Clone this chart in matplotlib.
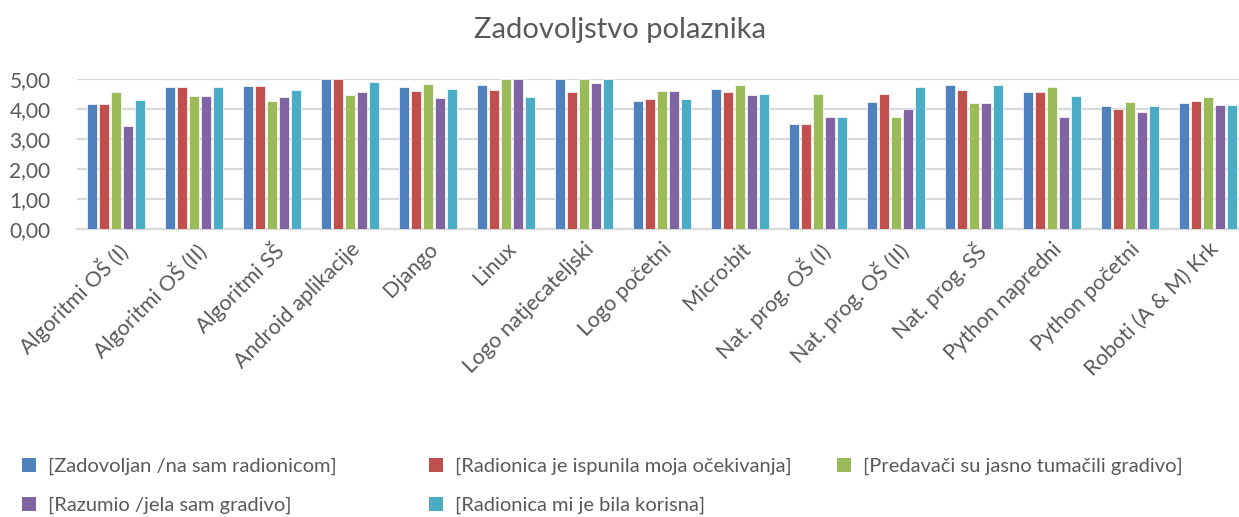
import matplotlib
matplotlib.use("Agg")
import matplotlib.pyplot as plt
import numpy as np
from matplotlib.patches import Patch

categories = [
    "Algoritmi OŠ (I)", "Algoritmi OŠ (II)", "Algoritmi SŠ", "Android aplikacije",
    "Django", "Linux", "Logo natjecateljski", "Logo početni", "Micro:bit",
    "Nat. prog. OŠ (I)", "Nat. prog. OŠ (II)", "Nat. prog. SŠ", "Python napredni",
    "Python početni", "Roboti (A & M) Krk",
]

series_names = [
    "[Zadovoljan /na sam radionicom]",
    "[Radionica je ispunila moja očekivanja]",
    "[Predavači su jasno tumačili gradivo]",
    "[Razumio /jela sam gradivo]",
    "[Radionica mi je bila korisna]",
]

zadovoljan = [4.17, 4.72, 4.77, 5.00, 4.72, 4.81, 5.00, 4.26, 4.66, 3.50, 4.25, 4.81, 4.58, 4.11, 4.20]
ispunila = [4.17, 4.72, 4.77, 5.00, 4.60, 4.62, 4.58, 4.34, 4.57, 3.50, 4.50, 4.62, 4.58, 4.01, 4.28]
predavaci = [4.58, 4.43, 4.27, 4.46, 4.83, 5.00, 5.00, 4.60, 4.81, 4.50, 3.75, 4.20, 4.72, 4.22, 4.40]
razumio = [3.42, 4.43, 4.39, 4.57, 4.37, 5.00, 4.87, 4.60, 4.46, 3.75, 4.00, 4.20, 3.72, 3.89, 4.13]
korisna = [4.29, 4.72, 4.63, 4.90, 4.66, 4.40, 5.00, 4.34, 4.49, 3.75, 4.75, 4.81, 4.43, 4.11, 4.13]

yticks = [0, 1, 2, 3, 4, 5]
ytick_labels = ["0,00", "1,00", "2,00", "3,00", "4,00", "5,00"]

colors = ["#4F81BD", "#C0504D", "#9BBB59", "#8064A2", "#4BACC6"]
TEXT = "#595959"
GRID = "#D9D9D9"

plt.rcParams["font.family"] = ["Lato", "DejaVu Sans"]

fig = plt.figure(figsize=(12.39, 5.17), dpi=100)
W, H = 1239, 517
ax = fig.add_axes([77 / W, 1 - 229 / H, 1170 / W, 150 / H])

x = np.arange(len(categories))
pitch = 0.154
bar_w = 0.128
all_series = [zadovoljan, ispunila, predavaci, razumio, korisna]
for i, (vals, col) in enumerate(zip(all_series, colors)):
    ax.bar(x + (i - 2) * pitch, vals, width=bar_w, color=col,
           edgecolor="white", linewidth=0.5, zorder=3)

ax.set_xlim(-0.5, len(categories) - 0.5)
ax.set_ylim(0, 5)
ax.set_yticks(yticks)
ax.set_yticklabels(ytick_labels, fontsize=15, color=TEXT)
ax.yaxis.grid(True, color=GRID, linewidth=1.6, zorder=0)
ax.tick_params(axis="y", length=0, pad=19)
ax.tick_params(axis="x", length=0, pad=7)
for s in ["top", "right", "left"]:
    ax.spines[s].set_visible(False)
ax.spines["bottom"].set_color(GRID)
ax.spines["bottom"].set_linewidth(1.6)

ax.set_xticks(x)
ax.set_xticklabels(categories, rotation=45, ha="right", va="top",
                   rotation_mode="anchor", fontsize=15.5, color=TEXT)

fig.text(0.5, 1 - 30 / H, "Zadovoljstvo polaznika", ha="center", va="center",
         fontsize=21, color=TEXT)

# legend: three columns laid out like Excel
col_x = [22 / W, 429 / W, 837 / W]
columns = [[0, 3], [1, 4], [2]]
for cx, idxs in zip(col_x, columns):
    handles = [Patch(facecolor=colors[i], edgecolor="none") for i in idxs]
    labels = [series_names[i] for i in idxs]
    fig.legend(handles, labels, loc="upper left", bbox_to_anchor=(cx, 1 - 458 / H),
               frameon=False, fontsize=14.5, labelcolor=TEXT, handlelength=0.7,
               handleheight=0.7, handletextpad=0.6, labelspacing=1.05,
               borderaxespad=0, borderpad=0)

fig.savefig("out.png", dpi=100)
